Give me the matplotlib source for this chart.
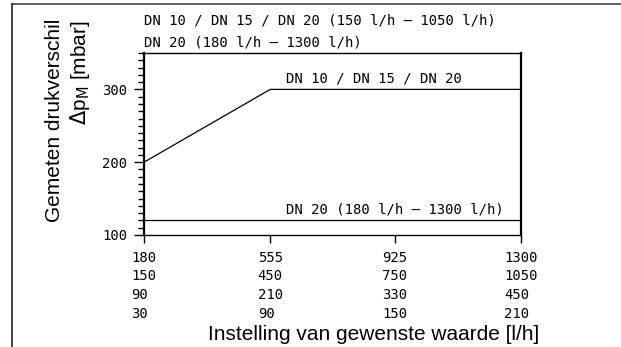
import matplotlib
matplotlib.use("Agg")
import matplotlib.pyplot as plt
from matplotlib.lines import Line2D
from matplotlib.ticker import MultipleLocator

# Data
x_ticks = [180, 555, 925, 1300]
row2 = [150, 450, 750, 1050]
row3 = [90, 210, 330, 450]
row4 = [30, 90, 150, 210]
y_ticks = [100, 200, 300]

dn_all_x = [180, 555, 1300]
dn_all_y = [200, 300, 300]
dn20_x = [180, 1300]
dn20_y = [120, 120]

title1 = "DN 10 / DN 15 / DN 20 (150 l/h – 1050 l/h)"
title2 = "DN 20 (180 l/h – 1300 l/h)"
lab_all = "DN 10 / DN 15 / DN 20"
lab_20 = "DN 20 (180 l/h – 1300 l/h)"

W, H = 621, 347
fig = plt.figure(figsize=(W / 100, H / 100), dpi=100)
ax = fig.add_axes([144 / W, 1 - 235 / H, (521 - 144) / W, (235 - 53) / H])

tech = "DejaVu Sans Mono"
ax.plot(dn_all_x, dn_all_y, color="black", lw=0.9)
ax.plot(dn20_x, dn20_y, color="black", lw=0.9)

ax.set_xlim(180, 1300)
ax.set_ylim(100, 350)

for s in ax.spines.values():
    s.set_color("black")
    s.set_linewidth(1.0)
ax.spines["left"].set_linewidth(1.6)
ax.spines["right"].set_linewidth(1.6)

ax.set_yticks(y_ticks)
ax.set_yticklabels([str(v) for v in y_ticks], family=tech, fontsize=10)
ax.yaxis.set_minor_locator(MultipleLocator(10))
ax.tick_params(axis="y", which="major", direction="out", length=7, width=1, pad=5)
ax.tick_params(axis="y", which="minor", direction="out", length=4, width=1)

labels = [f"{a}\n{b}\n{c}\n{d}" for a, b, c, d in zip(x_ticks, row2, row3, row4)]
ax.set_xticks(x_ticks)
ax.set_xticklabels(labels, family=tech, fontsize=10, linespacing=1.41)
for t in ax.get_xticklabels():
    t.set_multialignment("left")
ax.tick_params(axis="x", direction="out", length=6, width=1, pad=5.5)

ax.annotate(lab_all, xy=(555, 300), xytext=(11, 2.5), textcoords="offset points",
            family=tech, fontsize=10, ha="left", va="bottom")
ax.annotate(lab_20, xy=(555, 120), xytext=(11, 2.5), textcoords="offset points",
            family=tech, fontsize=10, ha="left", va="bottom")

fig.text(144 / W, 1 - 24 / H, title1, family=tech, fontsize=10, ha="left", va="baseline")
fig.text(144 / W, 1 - 46 / H, title2, family=tech, fontsize=10, ha="left", va="baseline")

fig.text(55 / W, 1 - 120 / H, "Gemeten drukverschil", family="Liberation Sans",
         fontsize=15, rotation=90, ha="center", va="center")
fig.text(80 / W, 1 - 73 / H, r"$\Delta$p$_\mathrm{M}$ [mbar]", family="Liberation Sans",
         fontsize=15, rotation=90, ha="center", va="center")
fig.text(374 / W, 1 - 340 / H, "Instelling van gewenste waarde [l/h]",
         family="Liberation Sans", fontsize=15, ha="center", va="baseline")

# Outer frame
fig.add_artist(Line2D([12 / W, 1], [1 - 4 / H, 1 - 4 / H], color="#444444", lw=1.2))
fig.add_artist(Line2D([12 / W, 12 / W], [0, 1 - 4 / H], color="#222222", lw=1.2))

fig.savefig("out.png", dpi=100)
